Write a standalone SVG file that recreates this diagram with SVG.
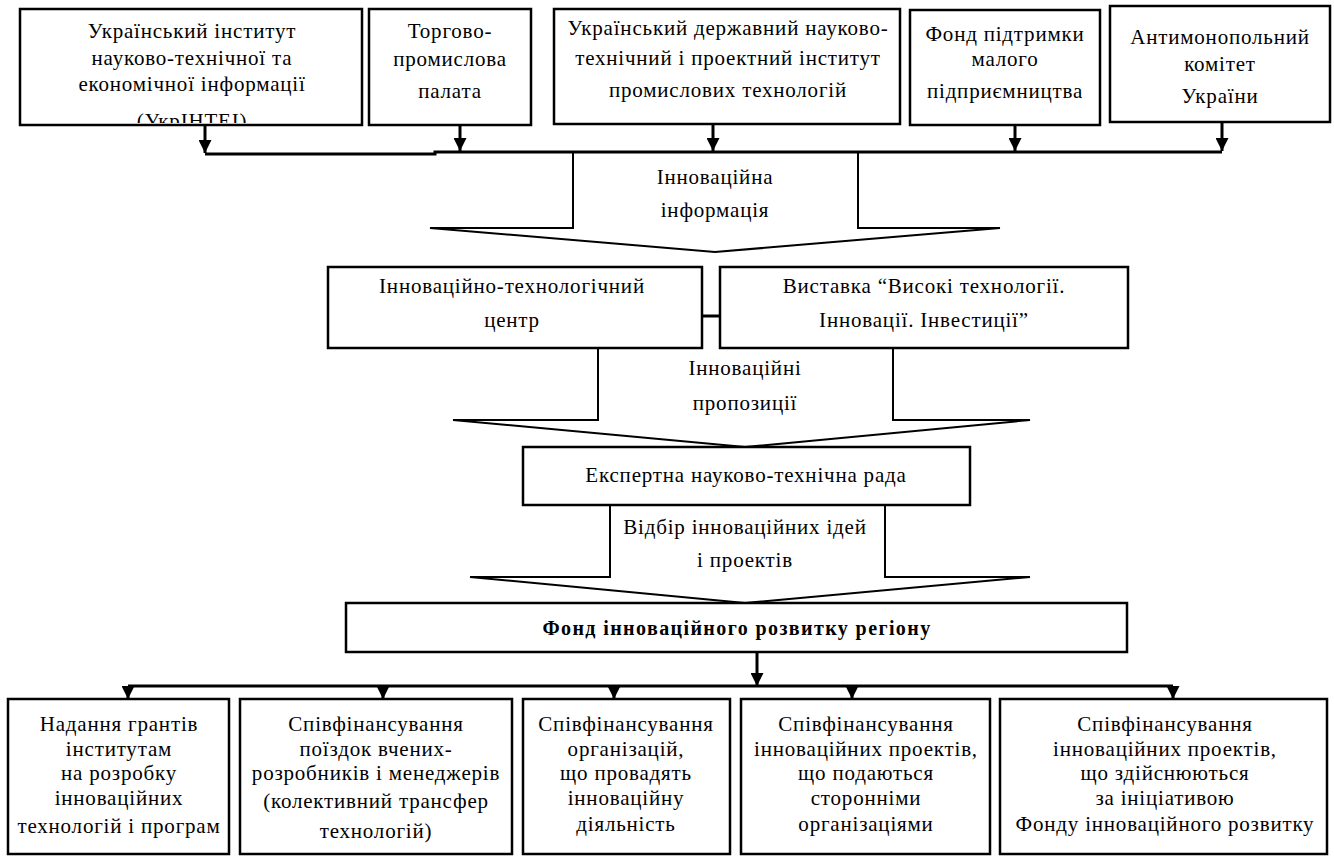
<svg xmlns="http://www.w3.org/2000/svg" width="1334" height="856" viewBox="0 0 1334 856">
<style>
.box{fill:#fff;stroke:#000;stroke-width:2.5}
.blk{fill:#fff;stroke:#000;stroke-width:2}
.ln{fill:none;stroke:#000;stroke-width:3}
text{font-family:"Times New Roman",Tinos,"Liberation Serif","Noto Serif","DejaVu Serif",serif;font-size:21px;letter-spacing:0.8px;fill:#000;text-anchor:middle}
.b{font-weight:bold;font-size:20px;letter-spacing:1.4px}
</style>
<defs>
<marker id="ah" viewBox="0 0 10 10" refX="10" refY="5" markerWidth="13" markerHeight="13" markerUnits="userSpaceOnUse" orient="auto">
<path d="M0,0 L10,5 L0,10 Z" fill="#000"/>
</marker>
<clipPath id="c1"><rect x="20" y="8" width="342" height="115"/></clipPath>
</defs>
<rect width="1334" height="856" fill="#fff"/>

<g id="flow1">
<path class="blk" d="M573,153 L573,228 L430,228 L715,252 L1000,228 L858,228 L858,153"/>
<text x="715" y="184">Інноваційна</text>
<text x="715" y="217">інформація</text>
</g>
<g id="flow2">
<path class="blk" d="M598,348 L598,420 L453,420 L745,447 L1030,420 L893,420 L893,348"/>
<text x="745" y="375">Інноваційні</text>
<text x="745" y="410">пропозиції</text>
</g>
<g id="flow3">
<path class="blk" d="M610,505 L610,577 L470,577 L745,603 L1030,577 L885,577 L885,505"/>
<text x="745" y="534">Відбір інноваційних ідей</text>
<text x="745" y="567">і проектів</text>
</g>

<g id="connectors">
<path class="ln" d="M205,154 L435,154 L435,152 L1222,152"/>
<path class="ln" d="M205,125 L205,153" marker-end="url(#ah)"/>
<path class="ln" d="M460,125 L460,151" marker-end="url(#ah)"/>
<path class="ln" d="M713,123 L713,151" marker-end="url(#ah)"/>
<path class="ln" d="M1015,125 L1015,151" marker-end="url(#ah)"/>
<path class="ln" d="M1222,122 L1222,151" marker-end="url(#ah)"/>
<path class="ln" d="M702,316 L720,316"/>
<path class="ln" d="M757,652 L757,686" marker-end="url(#ah)"/>
<path class="ln" d="M128,686 L1173,686"/>
<path class="ln" d="M128,686 L128,699" marker-end="url(#ah)"/>
<path class="ln" d="M383,686 L383,699" marker-end="url(#ah)"/>
<path class="ln" d="M614,686 L614,699" marker-end="url(#ah)"/>
<path class="ln" d="M852,686 L852,699" marker-end="url(#ah)"/>
<path class="ln" d="M1173,686 L1173,699" marker-end="url(#ah)"/>
</g>

<g id="n1">
<rect class="box" x="20" y="9" width="342" height="116"/>
<text x="192" y="38">Український інститут</text>
<text x="192" y="65">науково-технічної та</text>
<text x="192" y="91">економічної інформації</text>
<text x="192" y="128" clip-path="url(#c1)">(УкрІНТЕІ)</text>
</g>
<g id="n2">
<rect class="box" x="369" y="9" width="162" height="116"/>
<text x="450" y="38">Торгово-</text>
<text x="450" y="66">промислова</text>
<text x="450" y="98">палата</text>
</g>
<g id="n3">
<rect class="box" x="554" y="9" width="346" height="115"/>
<text x="728" y="35">Український державний науково-</text>
<text x="728" y="65">технічний і проектний інститут</text>
<text x="728" y="97">промислових технологій</text>
</g>
<g id="n4">
<rect class="box" x="910" y="10" width="190" height="115"/>
<text x="1005" y="41">Фонд підтримки</text>
<text x="1005" y="66">малого</text>
<text x="1005" y="98">підприємництва</text>
</g>
<g id="n5">
<rect class="box" x="1110" y="6" width="220" height="116"/>
<text x="1220" y="44">Антимонопольний</text>
<text x="1220" y="71">комітет</text>
<text x="1220" y="103">України</text>
</g>

<g id="n6">
<rect class="box" x="328" y="267" width="374" height="81"/>
<text x="512" y="293">Інноваційно-технологічний</text>
<text x="512" y="327">центр</text>
</g>
<g id="n7">
<rect class="box" x="720" y="267" width="408" height="81"/>
<text x="924" y="293">Виставка “Високі технології.</text>
<text x="924" y="327">Інновації. Інвестиції”</text>
</g>

<g id="n8">
<rect class="box" x="523" y="447" width="447" height="58"/>
<text x="746" y="482">Експертна науково-технічна рада</text>
</g>

<g id="n9">
<rect class="box" x="346" y="603" width="781" height="49"/>
<text class="b" x="737" y="635">Фонд інноваційного розвитку регіону</text>
</g>

<g id="n10">
<rect class="box" x="8" y="699" width="221" height="155"/>
<text x="119" y="731">Надання грантів</text>
<text x="119" y="756">інститутам</text>
<text x="119" y="780">на розробку</text>
<text x="119" y="805">інноваційних</text>
<text x="119" y="833">технологій і програм</text>
</g>
<g id="n11">
<rect class="box" x="240" y="699" width="272" height="155"/>
<text x="376" y="731">Співфінансування</text>
<text x="376" y="756">поїздок вчених-</text>
<text x="376" y="780">розробників і менеджерів</text>
<text x="376" y="808">(колективний трансфер</text>
<text x="376" y="838">технологій)</text>
</g>
<g id="n12">
<rect class="box" x="523" y="699" width="207" height="155"/>
<text x="626" y="731">Співфінансування</text>
<text x="626" y="756">організацій,</text>
<text x="626" y="780">що провадять</text>
<text x="626" y="805">інноваційну</text>
<text x="626" y="831">діяльність</text>
</g>
<g id="n13">
<rect class="box" x="741" y="699" width="249" height="155"/>
<text x="866" y="731">Співфінансування</text>
<text x="866" y="756">інноваційних проектів,</text>
<text x="866" y="780">що подаються</text>
<text x="866" y="805">сторонніми</text>
<text x="866" y="831">організаціями</text>
</g>
<g id="n14">
<rect class="box" x="1000" y="699" width="327" height="155"/>
<text x="1165" y="731">Співфінансування</text>
<text x="1165" y="756">інноваційних проектів,</text>
<text x="1165" y="780">що здійснюються</text>
<text x="1165" y="805">за ініціативою</text>
<text x="1165" y="831">Фонду інноваційного розвитку</text>
</g>
</svg>
